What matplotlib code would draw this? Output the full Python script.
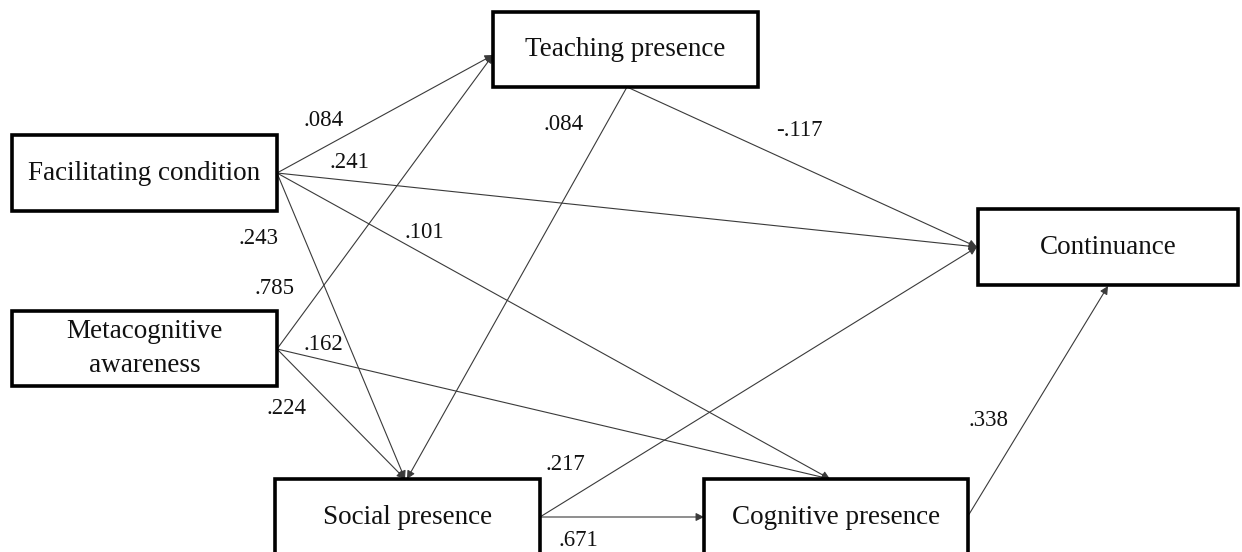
import matplotlib
matplotlib.use("Agg")
import matplotlib.pyplot as plt
from matplotlib.patches import Rectangle

# constructs in the path model
nodes = ["Teaching presence", "Facilitating condition", "Metacognitive\nawareness",
         "Continuance", "Social presence", "Cognitive presence"]

# paths: source -> target with standardized coefficient
edge_from = ["Facilitating condition", "Metacognitive\nawareness", "Facilitating condition",
             "Facilitating condition", "Facilitating condition", "Metacognitive\nawareness",
             "Metacognitive\nawareness", "Teaching presence", "Teaching presence",
             "Social presence", "Social presence", "Cognitive presence"]
edge_to = ["Teaching presence", "Teaching presence", "Continuance",
           "Cognitive presence", "Social presence", "Social presence",
           "Cognitive presence", "Social presence", "Continuance",
           "Continuance", "Cognitive presence", "Continuance"]
coefs = [".084", ".785", ".241", ".101", ".243", ".224",
         ".162", ".084", "-.117", ".217", ".671", ".338"]

# layout (pixels, y grows downward)
boxes = {
    "Teaching presence": (493, 12, 758, 87),
    "Facilitating condition": (12, 135, 277, 211),
    "Metacognitive\nawareness": (12, 311, 277, 386),
    "Continuance": (978, 209, 1238, 285),
    "Social presence": (275, 479, 540, 560),
    "Cognitive presence": (704, 479, 968, 560),
}
# start / end anchor points for each path
starts = [(277, 173), (277, 349), (277, 173), (277, 173), (277, 173), (277, 349),
          (277, 349), (627, 87), (627, 87), (540, 517), (540, 517), (968, 516)]
ends = [(493, 55), (493, 55), (977, 247), (830, 479), (405, 479), (405, 479),
        (830, 479), (407, 479), (977, 247), (977, 247), (704, 517), (1108, 286)]
label_pos = [(324, 120), (274, 289), (349, 162), (424, 232), (259, 239), (287, 408),
             (323, 345), (564, 125), (799, 130), (565, 465), (578, 541), (988, 420)]

serif = ["Liberation Serif", "DejaVu Serif"]

fig = plt.figure(figsize=(12.42, 5.52), dpi=100)
ax = fig.add_axes([0, 0, 1, 1])
ax.set_xlim(0, 1242)
ax.set_ylim(552, 0)
ax.axis("off")

for (x0, y0), (x1, y1) in zip(starts, ends):
    ax.annotate("", xy=(x1, y1), xytext=(x0, y0),
                arrowprops=dict(arrowstyle="-|>", color="#3a3a3a", lw=0.8,
                                mutation_scale=12, shrinkA=0, shrinkB=0))

for lab, (lx, ly) in zip(coefs, label_pos):
    ax.text(lx, ly, lab, ha="center", va="center", fontsize=16.5, family=serif, color="#111")

for name in nodes:
    x0, y0, x1, y1 = boxes[name]
    ax.add_patch(Rectangle((x0, y0), x1 - x0, y1 - y0, fill=True, facecolor="white",
                           edgecolor="black", lw=2.6, zorder=3))
    cy = (y0 + min(y1, 557)) / 2
    ax.text((x0 + x1) / 2, cy, name, ha="center", va="center", fontsize=19.5,
            family=serif, color="#111", zorder=4, linespacing=1.5)

fig.savefig("out.png", dpi=100)
